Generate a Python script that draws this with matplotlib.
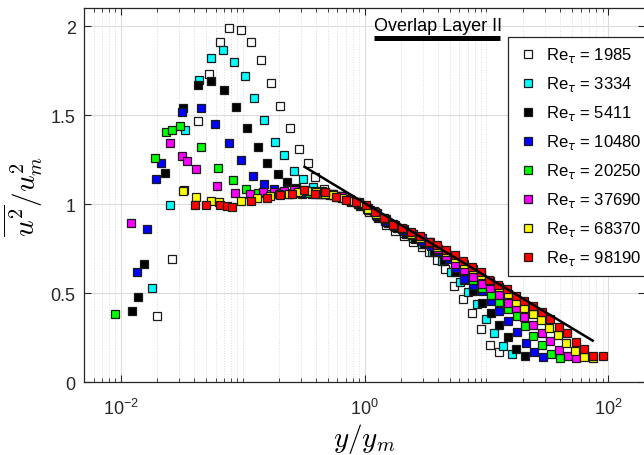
import matplotlib
matplotlib.use('Agg')
import matplotlib.pyplot as plt
from matplotlib import ticker

plt.rcParams['font.family'] = ['Liberation Sans', 'DejaVu Sans']
plt.rcParams['mathtext.fontset'] = 'dejavusans'

# Re_tau = 1985
x_1985 = [0.0200, 0.0263, 0.0330, 0.0430, 0.0533, 0.0655, 0.0778, 0.0975, 0.118, 0.142,
          0.171, 0.204, 0.243, 0.288, 0.341, 0.394, 0.465, 0.55, 0.65, 0.77,
          0.91, 1.08, 1.28, 1.51, 1.79, 2.12, 2.51, 2.96, 3.35, 3.92,
          4.58, 5.43, 6.48, 7.67, 9.03, 10.7, 12.8]
y_1985 = [0.373, 0.694, 1.08, 1.47, 1.73, 1.91, 1.99, 1.98, 1.91, 1.81,
          1.68, 1.55, 1.43, 1.31, 1.23, 1.15, 1.085, 1.06, 1.045, 1.02,
          0.99, 0.955, 0.92, 0.885, 0.85, 0.82, 0.79, 0.76, 0.732, 0.684,
          0.634, 0.540, 0.469, 0.390, 0.300, 0.212, 0.169]
# Re_tau = 3334
x_3334 = [0.0182, 0.0255, 0.0339, 0.0442, 0.0554, 0.069, 0.0855, 0.104, 0.125, 0.151,
          0.183, 0.220, 0.262, 0.313, 0.375, 0.445, 0.53, 0.63, 0.75, 0.89,
          1.06, 1.26, 1.5, 1.78, 2.1, 2.5, 2.97, 3.6, 4.31, 5.1,
          6.08, 7.11, 8.33, 9.88, 11.6, 13.8, 16.3]
y_3334 = [0.531, 0.994, 1.416, 1.697, 1.819, 1.866, 1.797, 1.722, 1.598, 1.472,
          1.347, 1.275, 1.185, 1.140, 1.097, 1.075, 1.06, 1.045, 1.025, 1.0,
          0.97, 0.935, 0.90, 0.87, 0.84, 0.81, 0.775, 0.73, 0.679, 0.62,
          0.563, 0.506, 0.441, 0.356, 0.276, 0.203, 0.159]
# Re_tau = 5411
x_5411 = [0.0124, 0.0138, 0.0156, 0.0232, 0.0325, 0.0431, 0.0554, 0.0708, 0.0883, 0.109,
          0.133, 0.160, 0.194, 0.231, 0.275, 0.327, 0.39, 0.46, 0.55, 0.65,
          0.78, 0.92, 1.1, 1.3, 1.55, 1.84, 2.19, 2.6, 3.1, 3.7,
          4.5, 5.53, 6.5, 7.7, 9.16, 10.9, 12.7, 15.0, 17.5, 20.8]
y_5411 = [0.400, 0.480, 0.662, 1.174, 1.538, 1.669, 1.692, 1.641, 1.547, 1.429,
          1.322, 1.234, 1.172, 1.122, 1.09, 1.075, 1.065, 1.06, 1.05, 1.035,
          1.015, 0.995, 0.965, 0.93, 0.895, 0.865, 0.835, 0.805, 0.775, 0.735,
          0.685, 0.619, 0.575, 0.515, 0.446, 0.388, 0.322, 0.253, 0.187, 0.150]
# Re_tau = 10480
x_10480 = [0.0136, 0.0164, 0.0194, 0.0213, 0.0319, 0.0456, 0.0598, 0.0778, 0.0975, 0.122,
           0.150, 0.18, 0.215, 0.26, 0.31, 0.37, 0.44, 0.52, 0.62, 0.74,
           0.88, 1.05, 1.25, 1.48, 1.76, 2.09, 2.48, 2.95, 3.5, 4.15,
           4.9, 5.6, 6.6, 7.82, 9.27, 10.9, 12.8, 15.1, 17.7, 21.0,
           24.5, 29.0]
y_10480 = [0.622, 0.859, 1.140, 1.234, 1.515, 1.542, 1.450, 1.345, 1.247, 1.159,
           1.112, 1.085, 1.07, 1.065, 1.06, 1.06, 1.055, 1.05, 1.04, 1.025,
           1.005, 0.975, 0.94, 0.905, 0.875, 0.85, 0.825, 0.795, 0.765, 0.73,
           0.69, 0.64, 0.581, 0.544, 0.510, 0.454, 0.403, 0.347, 0.281, 0.221,
           0.169, 0.141]
# Re_tau = 20250
x_20250 = [0.0089, 0.0190, 0.0234, 0.0265, 0.0305, 0.0453, 0.0632, 0.0834, 0.107, 0.135,
           0.165, 0.2, 0.24, 0.29, 0.35, 0.42, 0.5, 0.6, 0.71, 0.85,
           1.0, 1.2, 1.42, 1.7, 2.02, 2.4, 2.85, 3.4, 4.0, 4.75,
           5.6, 6.6, 7.8, 9.2, 10.9, 12.8, 15.1, 17.7, 20.7, 24.3,
           28.5, 33.6, 40.0]
y_20250 = [0.384, 1.262, 1.403, 1.416, 1.437, 1.319, 1.204, 1.135, 1.084, 1.065,
           1.06, 1.06, 1.06, 1.065, 1.065, 1.06, 1.055, 1.04, 1.03, 1.01,
           0.99, 0.96, 0.925, 0.89, 0.86, 0.835, 0.81, 0.78, 0.745, 0.71,
           0.67, 0.625, 0.575, 0.53, 0.491, 0.450, 0.41, 0.375, 0.317, 0.262,
           0.210, 0.159, 0.135]
# Re_tau = 37690
x_37690 = [0.0122, 0.0255, 0.0319, 0.0350, 0.0412, 0.0617, 0.0860, 0.114, 0.146, 0.18,
           0.22, 0.265, 0.32, 0.38, 0.45, 0.54, 0.64, 0.76, 0.9, 1.07,
           1.27, 1.5, 1.78, 2.1, 2.5, 2.95, 3.45, 4.0, 4.7, 5.53,
           6.55, 7.7, 9.2, 10.8, 12.6, 14.9, 17.5, 20.5, 24.0, 28.4,
           33.3, 39.4, 46.3, 54.3]
y_37690 = [0.896, 1.345, 1.273, 1.244, 1.195, 1.101, 1.064, 1.056, 1.066, 1.07,
           1.075, 1.08, 1.08, 1.075, 1.07, 1.06, 1.045, 1.03, 1.01, 0.98,
           0.95, 0.915, 0.885, 0.86, 0.835, 0.81, 0.785, 0.75, 0.71, 0.666,
           0.628, 0.591, 0.553, 0.529, 0.488, 0.447, 0.417, 0.368, 0.322, 0.277,
           0.234, 0.184, 0.146, 0.135]
# Re_tau = 68370
x_68370 = [0.0325, 0.0416, 0.0551, 0.0636, 0.097, 0.131, 0.168, 0.2, 0.24, 0.285,
           0.34, 0.40, 0.47, 0.55, 0.65, 0.77, 0.9, 1.06, 1.25, 1.48,
           1.74, 2.05, 2.42, 2.85, 3.35, 3.95, 4.65, 5.5, 6.5, 7.7,
           9.1, 10.7, 12.6, 14.9, 17.5, 20.5, 24.0, 27.9, 32.9, 38.5,
           45.3, 53.0, 62.8, 74.5]
y_68370 = [1.075, 1.04, 1.016, 1.013, 1.016, 1.033, 1.045, 1.055, 1.06, 1.07,
           1.075, 1.07, 1.06, 1.05, 1.035, 1.02, 1.005, 0.975, 0.945, 0.915,
           0.885, 0.86, 0.835, 0.81, 0.785, 0.76, 0.73, 0.70, 0.665, 0.635,
           0.605, 0.57, 0.535, 0.495, 0.45, 0.42, 0.384, 0.35, 0.306, 0.264,
           0.222, 0.178, 0.144, 0.135]
# Re_tau = 98190
x_98190 = [0.0407, 0.0498, 0.0657, 0.0745, 0.0824, 0.117, 0.158, 0.204, 0.254, 0.321,
           0.389, 0.476, 0.586, 0.708, 0.855, 1.03, 1.22, 1.45, 1.71, 2.03,
           2.42, 2.86, 3.35, 3.96, 4.67, 5.54, 6.48, 7.68, 9.05, 10.6,
           12.5, 14.7, 17.5, 20.4, 24.3, 28.4, 33.3, 39.4, 46.1, 54.3,
           63.6, 74.4, 90.0]
y_98190 = [0.994, 0.994, 0.998, 0.990, 0.987, 1.020, 1.035, 1.050, 1.056, 1.078,
           1.060, 1.069, 1.041, 1.026, 1.013, 0.994, 0.957, 0.923, 0.885, 0.867,
           0.844, 0.822, 0.79, 0.769, 0.741, 0.716, 0.679, 0.647, 0.619, 0.576,
           0.548, 0.525, 0.484, 0.459, 0.428, 0.394, 0.356, 0.309, 0.276, 0.229,
           0.187, 0.150, 0.150]

re_values = ['1985', '3334', '5411', '10480', '20250', '37690', '68370', '98190']
x_series = [x_1985, x_3334, x_5411, x_10480, x_20250, x_37690, x_68370, x_98190]
y_series = [y_1985, y_3334, y_5411, y_10480, y_20250, y_37690, y_68370, y_98190]
face_colors = ['#ffffff', '#00ffff', '#000000', '#0000ff', '#00ff00', '#ff00ff', '#ffff00', '#ff0000']

# black reference line and overlap-layer bar
fit_x = [0.322, 74.4]
fit_y = [1.210, 0.234]
overlap_x = [1.2, 13.0]
overlap_y = [1.932, 1.932]

fig = plt.figure(figsize=(6.44, 4.56), dpi=100)
ax = fig.add_axes([84 / 644, 1 - 383.3 / 456, 561 / 644, 374 / 456])

handles = []
for xs, ys, fc, re in zip(x_series, y_series, face_colors, re_values):
    h, = ax.plot(xs, ys, linestyle='none', marker='s', markersize=6.2,
                 markerfacecolor=fc, markeredgecolor='#1a1a1a', markeredgewidth=0.9,
                 label='Re$_{\\tau}$ = ' + re)
    handles.append(h)

ax.plot(fit_x, fit_y, color='k', lw=1.8, zorder=5)
ax.plot(overlap_x, overlap_y, color='k', lw=3.6, solid_capstyle='butt')
ax.text(overlap_x[0], 1.979, 'Overlap Layer II', fontsize=13, va='baseline', ha='left')

ax.set_xscale('log')
ax.set_xlim(0.005, 200)
ax.set_ylim(0, 2.1)
ax.xaxis.set_major_locator(ticker.LogLocator(base=100, numticks=10))
ax.xaxis.set_minor_locator(ticker.LogLocator(base=10, subs=[1, 2, 3, 4, 5, 6, 7, 8, 9], numticks=20))
ax.xaxis.set_minor_formatter(ticker.NullFormatter())
ax.set_yticks([0, 0.5, 1, 1.5, 2])
ax.yaxis.set_major_formatter(ticker.FormatStrFormatter('%g'))

ax.grid(True, which='major', color='#dcdcdc', lw=0.8)
ax.grid(True, which='minor', axis='x', color='#dcdcdc', lw=0.7, linestyle=':')
ax.set_axisbelow(True)
ax.tick_params(which='both', direction='in', top=True, right=True, colors='#262626')
ax.tick_params(which='major', length=5, labelsize=13, labelcolor='#262626')
ax.tick_params(axis='y', which='major', pad=6)
ax.tick_params(axis='x', which='major', pad=11)
ax.tick_params(which='minor', length=3)
for sp in ax.spines.values():
    sp.set_color('#262626')
    sp.set_linewidth(0.9)

ax.set_xlabel(r'$y/y_m$', fontsize=21, math_fontfamily='cm', va='center')
ax.xaxis.set_label_coords(0.5, -0.15)
ax.set_ylabel(r'$\overline{u^2}/u_m^2$', fontsize=21, math_fontfamily='cm', labelpad=4)

leg = ax.legend(handles=handles, loc='upper left', bbox_to_anchor=(0.756, 0.923),
                borderaxespad=0, fontsize=12, frameon=True, fancybox=False,
                edgecolor='#262626', framealpha=1, handlelength=1.4,
                handletextpad=0.4, borderpad=0.5, labelspacing=0.6)
leg.get_frame().set_linewidth(0.9)

fig.savefig('out.png', dpi=100)
